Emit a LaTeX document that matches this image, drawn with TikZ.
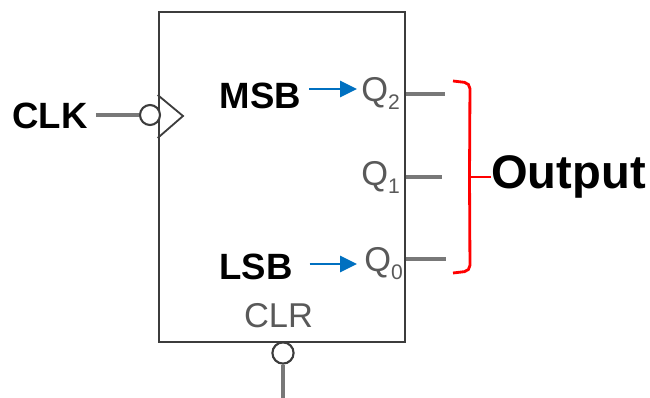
\documentclass[tikz,border=0pt]{standalone}
\usepackage{xcolor}
\usepackage{fontspec}
\setmainfont{Liberation Sans}
\usetikzlibrary{positioning,arrows.meta}

\definecolor{chipline}{RGB}{60,60,60}
\definecolor{pingray}{RGB}{120,120,120}
\definecolor{pinblue}{RGB}{0,112,192}
\newcommand{\Qpin}[1]{Q\raisebox{-0.22em}{\fontsize{15}{16}\selectfont #1}}

\begin{document}
\begin{tikzpicture}[
  x=0.025cm, y=-0.025cm,
  label/.style={inner sep=0pt, font=\fontsize{26}{28}\selectfont\bfseries},
  pin/.style={inner sep=0pt, text=chipline!85, font=\fontsize{24.5}{26}\selectfont},
  bubble/.style={draw=chipline, line width=1.5pt, fill=white, circle, inner sep=0pt, minimum size=0.5cm},
  wire/.style={draw=pingray, line width=2.15pt},
  bluearrow/.style={draw=pinblue, line width=1.5pt, -{Triangle[length=4.2mm,width=4mm]}, shorten <=5.6pt},
  bracket/.style={draw=red, line width=2pt, rounded corners=4pt}
]
\useasboundingbox (0,0) rectangle (650,398);

\node[draw=chipline, line width=1.8pt, minimum width=6.15cm, minimum height=8.25cm, inner sep=0pt] (ff) at (282,177) {};

\node[label] (clk) at (50,116) {CLK};
\node[bubble] (clkbub) at (150,115) {};
\draw[chipline, line width=1.3pt] (ff.west |- 0,95) -- (183,116) -- (ff.west |- 0,138);
\draw[wire] (clk.east |- clkbub) ++(8,0) -- (clkbub);

\node[label] (msb) at (260.5,96) {MSB};
\node[label] (lsb) at (256,267) {LSB};

\node[pin, anchor=base west] (q2) at (361,102) {\Qpin{2}};
\node[pin, anchor=base west] (q1) at (361,186) {\Qpin{1}};
\node[pin, anchor=base west] (q0) at (364,272) {\Qpin{0}};
\node[pin] (clr) at (278.5,316) {CLR};

\coordinate (q2end) at (445,94);
\coordinate (q1end) at (442,177);
\coordinate (q0end) at (446,259);
\draw[wire] (ff.east |- q2end) -- (q2end);
\draw[wire] (ff.east |- q1end) -- (q1end);
\draw[wire] (ff.east |- q0end) -- (q0end);

\coordinate (msbtip) at (357,89);
\coordinate (lsbtip) at (357,264);
\draw[bluearrow] (msb.east |- msbtip) -- (msbtip);
\draw[bluearrow] (lsb.east |- lsbtip) ++(9,0) -- (lsbtip);

\node[bubble, minimum size=0.53cm] (clrbub) at (283,353) {};
\coordinate (clrend) at (283,398);
\draw[wire] (clrbub) -- (clrend);

\node[label, font=\fontsize{33.5}{36}\selectfont\bfseries] (output) at (568.5,177) {Output};
\draw[bracket] (453,81) -- (470,83) -- (469.5,177) -- (470,271) -- (453,273);
\draw[draw=red, line width=2pt] (469.5,177) -- (output.west);

\end{tikzpicture}
\end{document}
